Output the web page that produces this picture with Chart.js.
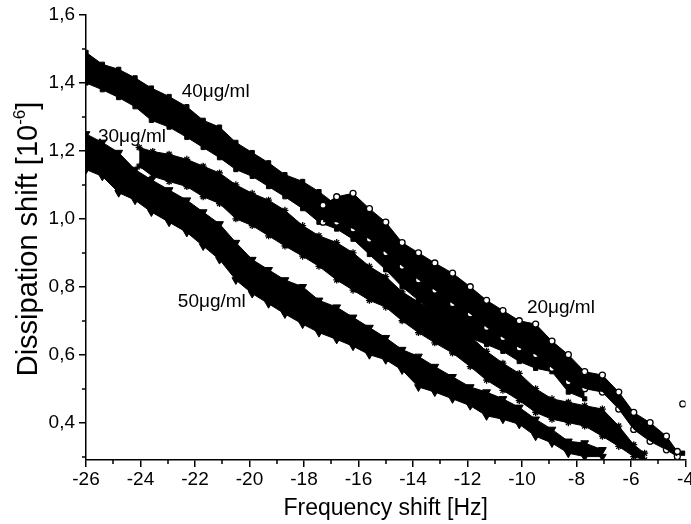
<!DOCTYPE html>
<html>
<head>
<meta charset="utf-8">
<script src="https://cdn.jsdelivr.net/npm/chart.js@4.4.0/dist/chart.umd.min.js"></script>
<style>
  html, body { margin: 0; padding: 0; background: #fff; }
  #wrap { width: 691px; height: 524px; }
</style>
</head>
<body>
<div id="wrap"><canvas id="qcm"></canvas></div>
<script>
// axis ticks
const xTicks = [-26, -24, -22, -20, -18, -16, -14, -12, -10, -8, -6, -4];
const xMinorTicks = [-25, -23, -21, -19, -17, -15, -13, -11, -9, -7, -5];
const yTicks = [0.4, 0.6, 0.8, 1.0, 1.2, 1.4, 1.6];
const yTickLabels = ['0,4', '0,6', '0,8', '1,0', '1,2', '1,4', '1,6'];
const yMinorTicks = [0.3, 0.5, 0.7, 0.9, 1.1, 1.3, 1.5];

// 20 ug/ml (circles) - upper and lower edge of the point cloud
const freq20 = [-17.3, -16.8, -16.2, -15.6, -15.0, -14.4, -13.8, -13.2, -12.55, -11.9, -11.3, -10.7, -10.1, -9.5, -8.9, -8.3, -7.7, -7.05, -6.45, -5.9, -5.3, -4.7, -4.3];
const top20 = [1.04, 1.065, 1.075, 1.03, 0.99, 0.93, 0.90, 0.87, 0.84, 0.80, 0.76, 0.73, 0.70, 0.69, 0.64, 0.60, 0.55, 0.54, 0.49, 0.43, 0.40, 0.36, 0.315];
const bot20 = [0.99, 0.99, 0.97, 0.94, 0.90, 0.86, 0.82, 0.79, 0.75, 0.72, 0.68, 0.65, 0.62, 0.60, 0.56, 0.52, 0.50, 0.49, 0.44, 0.38, 0.345, 0.32, 0.30];
const extra20 = [[-4.1, 0.455]];

// 40 ug/ml (squares)
const freq40 = [-26, -25.4, -24.8, -24.2, -23.6, -22.95, -22.3, -21.7, -21.1, -20.5, -19.9, -19.3, -18.7, -18.05, -17.45, -16.8, -16.2, -15.6, -15.0, -14.4, -13.8, -13.2, -12.55, -11.9, -11.3, -10.7, -10.1, -9.5, -8.9, -8.3, -7.7];
const top40 = [1.49, 1.455, 1.44, 1.415, 1.385, 1.36, 1.33, 1.29, 1.27, 1.225, 1.195, 1.165, 1.13, 1.11, 1.08, 1.04, 1.01, 0.98, 0.95, 0.91, 0.88, 0.845, 0.81, 0.77, 0.73, 0.70, 0.67, 0.63, 0.60, 0.57, 0.53];
const bot40 = [1.40, 1.38, 1.357, 1.33, 1.29, 1.27, 1.24, 1.21, 1.18, 1.145, 1.125, 1.095, 1.065, 1.03, 0.99, 0.97, 0.94, 0.895, 0.85, 0.80, 0.76, 0.72, 0.68, 0.65, 0.63, 0.61, 0.58, 0.56, 0.55, 0.49, 0.47];
const extra40 = [[-4.1, 0.31]];

// 30 ug/ml (stars)
const freq30 = [-24.05, -23.55, -22.95, -22.3, -21.7, -21.1, -20.5, -19.9, -19.3, -18.7, -18.05, -17.45, -16.8, -16.2, -15.6, -15.0, -14.4, -13.8, -13.2, -12.55, -11.9, -11.3, -10.7, -10.1, -9.5, -8.9, -8.3, -7.7, -7.05, -6.45, -5.9, -5.5];
const top30 = [1.21, 1.198, 1.19, 1.175, 1.155, 1.135, 1.10, 1.075, 1.055, 1.025, 0.98, 0.95, 0.93, 0.90, 0.86, 0.83, 0.785, 0.755, 0.725, 0.695, 0.655, 0.61, 0.575, 0.545, 0.50, 0.47, 0.46, 0.45, 0.44, 0.39, 0.335, 0.31];
const bot30 = [1.155, 1.125, 1.11, 1.095, 1.065, 1.045, 1.0, 0.98, 0.95, 0.92, 0.89, 0.86, 0.82, 0.79, 0.76, 0.74, 0.70, 0.665, 0.635, 0.605, 0.565, 0.525, 0.495, 0.465, 0.43, 0.41, 0.40, 0.39, 0.36, 0.33, 0.30, 0.29];

// 50 ug/ml (down triangles)
const freq50 = [-26, -25.4, -24.8, -24.2, -23.6, -22.95, -22.3, -21.7, -21.1, -20.5, -19.9, -19.3, -18.7, -18.05, -17.45, -16.8, -16.2, -15.6, -15.0, -14.4, -13.8, -13.2, -12.55, -11.9, -11.3, -10.7, -10.1, -9.5, -8.9, -8.3, -7.7, -7.05];
const top50 = [1.25, 1.225, 1.195, 1.145, 1.115, 1.085, 1.055, 1.02, 0.985, 0.93, 0.88, 0.85, 0.82, 0.80, 0.76, 0.74, 0.71, 0.68, 0.65, 0.615, 0.595, 0.565, 0.535, 0.505, 0.49, 0.47, 0.445, 0.41, 0.38, 0.345, 0.34, 0.32];
const bot50 = [1.145, 1.125, 1.077, 1.055, 1.02, 0.99, 0.96, 0.92, 0.88, 0.82, 0.78, 0.75, 0.72, 0.69, 0.665, 0.645, 0.625, 0.60, 0.585, 0.555, 0.505, 0.49, 0.47, 0.45, 0.42, 0.41, 0.395, 0.36, 0.34, 0.31, 0.30, 0.30];

// in-plot labels: text, anchor x (Hz), anchor y
const bandLabels = ['40\u03bcg/ml', '30\u03bcg/ml', '50\u03bcg/ml', '20\u03bcg/ml'];
const bandLabelX = [-22.49, -25.56, -22.63, -9.82];
const bandLabelY = [1.373, 1.241, 0.755, 0.737];

const FONT = '"Liberation Sans", Arial, sans-serif';

function toPoints(xs, ys) {
    return xs.map((x, i) => ({ x: x, y: ys[i] }));
}

//two line datasets per series, filled between them, with the series marker on both edges
function band(name, xs, top, bot, marker) {
    const common = {
        showLine: true,
        borderColor: '#000',
        borderWidth: 1,
        backgroundColor: '#000',
        tension: 0,
        pointStyle: marker.style,
        pointRadius: marker.radius,
        pointRotation: marker.rotation || 0,
        pointBackgroundColor: marker.fill,
        pointBorderColor: '#000',
        pointBorderWidth: marker.border
    };
    return [
        Object.assign({ label: name + ' top', data: toPoints(xs, top), fill: '+1' }, common),
        Object.assign({ label: name + ' bottom', data: toPoints(xs, bot), fill: false }, common)
    ];
}

function extraPoints(name, pts, marker) {
    return {
        label: name,
        data: pts.map(p => ({ x: p[0], y: p[1] })),
        showLine: false,
        pointStyle: marker.style,
        pointRadius: marker.radius,
        pointBackgroundColor: marker.fill,
        pointBorderColor: '#000',
        pointBorderWidth: marker.border
    };
}

const circle = { style: 'circle', radius: 3, fill: '#fff', border: 1.3 };
const square = { style: 'rect', radius: 3, fill: '#000', border: 1 };
const star = { style: 'star', radius: 3.5, fill: '#000', border: 1.3 };
const triangle = { style: 'triangle', radius: 4.5, rotation: 180, fill: '#000', border: 1 };

const datasets = [].concat(
    band('20', freq20, top20, bot20, circle),
    band('40', freq40, top40, bot40, square),
    band('30', freq30, top30, bot30, star),
    band('50', freq50, top50, bot50, triangle),
    [extraPoints('20 extra', extra20, circle), extraPoints('40 extra', extra40, square)]
);

//minor ticks, axis titles and concentration labels
const decorPlugin = {
    id: 'decor',
    afterDraw(chart) {
        const ctx = chart.ctx;
        const xs = chart.scales.x;
        const ys = chart.scales.y;
        const area = chart.chartArea;
        ctx.save();
        ctx.strokeStyle = '#000';
        ctx.lineWidth = 1.5;
        ctx.beginPath();
        xMinorTicks.forEach(v => {
            const px = Math.round(xs.getPixelForValue(v));
            ctx.moveTo(px, area.bottom);
            ctx.lineTo(px, area.bottom + 4);
        });
        yMinorTicks.forEach(v => {
            const py = Math.round(ys.getPixelForValue(v));
            ctx.moveTo(area.left - 4, py);
            ctx.lineTo(area.left, py);
        });
        ctx.stroke();

        ctx.fillStyle = '#000';
        ctx.font = '19px ' + FONT;
        ctx.textAlign = 'left';
        ctx.textBaseline = 'middle';
        bandLabels.forEach((t, i) => {
            ctx.fillText(t, xs.getPixelForValue(bandLabelX[i]), ys.getPixelForValue(bandLabelY[i]));
        });

        // x title
        ctx.font = '23px ' + FONT;
        ctx.textAlign = 'center';
        ctx.textBaseline = 'alphabetic';
        ctx.fillText('Frequency shift [Hz]', (area.left + area.right) / 2, 515);

        // y title with superscript
        const big = '29px ' + FONT;
        const small = '17px ' + FONT;
        const partA = 'Dissipation shift [10';
        const partB = '-6';
        const partC = ']';
        ctx.font = big;
        const wA = ctx.measureText(partA).width;
        const wC = ctx.measureText(partC).width;
        ctx.font = small;
        const wB = ctx.measureText(partB).width;
        const total = wA + wB + wC;
        ctx.translate(37, 239);
        ctx.rotate(-Math.PI / 2);
        ctx.textAlign = 'left';
        let pos = -total / 2;
        ctx.font = big;
        ctx.fillText(partA, pos, 0);
        pos += wA;
        ctx.font = small;
        ctx.fillText(partB, pos, -12);
        pos += wB;
        ctx.font = big;
        ctx.fillText(partC, pos, 0);
        ctx.restore();
    }
};

const qcmChart = new Chart(document.getElementById('qcm'), {
    type: 'line',
    data: { datasets: datasets },
    options: {
        responsive: true,
        maintainAspectRatio: false,
        animation: false,
        devicePixelRatio: 1,
        layout: { padding: { top: 15, right: 4, bottom: 0, left: 0 } },
        plugins: {
            legend: { display: false },
            tooltip: { enabled: false }
        },
        scales: {
            x: {
                type: 'linear',
                min: -26,
                max: -4,
                afterBuildTicks: function(scale) {
                    scale.ticks = xTicks.map(v => ({ value: v }));
                },
                afterFit: function(scale) {
                    scale.height = 64;
                    scale.paddingLeft = 0;
                    scale.paddingRight = 0;
                },
                ticks: {
                    color: '#000',
                    font: { family: FONT, size: 19 },
                    padding: 1,
                    maxRotation: 0,
                    autoSkip: false,
                    callback: function(value) {
                        return String(value);
                    }
                },
                grid: { drawOnChartArea: false, drawTicks: true, tickLength: 7, color: '#000', lineWidth: 1.5 },
                border: { display: true, color: '#000', width: 1.5 }
            },
            y: {
                type: 'linear',
                min: 0.29,
                max: 1.6,
                afterBuildTicks: function(scale) {
                    scale.ticks = yTicks.map(v => ({ value: v }));
                },
                afterFit: function(scale) {
                    scale.width = 86;
                    scale.paddingTop = 0;
                    scale.paddingBottom = 0;
                },
                ticks: {
                    color: '#000',
                    font: { family: FONT, size: 19 },
                    padding: 4,
                    autoSkip: false,
                    callback: function(value, index) {
                        return yTickLabels[index];
                    }
                },
                grid: { drawOnChartArea: false, drawTicks: true, tickLength: 7, color: '#000', lineWidth: 1.5 },
                border: { display: true, color: '#000', width: 1.5 }
            }
        }
    },
    plugins: [decorPlugin]
});
</script>
</body>
</html>
